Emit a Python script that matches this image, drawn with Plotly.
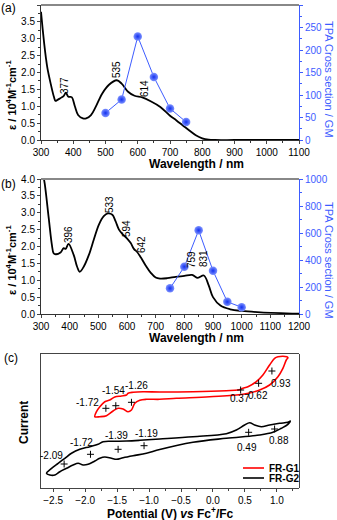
import plotly.graph_objects as go

W, H = 337, 520

# ---- (a) absorption + TPA ----
wl_a = [300, 305, 310, 315, 320, 330, 340, 345, 350, 360, 370, 377, 385, 395, 405, 415,
        430, 440, 455, 470, 490, 510, 535, 550, 570, 590, 614, 640, 670, 700, 720, 740,
        760, 780, 800, 820, 840, 900, 1000, 1100]
eps_a = [3.8, 3.3, 2.85, 2.45, 2.12, 1.67, 1.28, 1.16, 1.18, 1.24, 1.3, 1.4, 1.28, 1.27, 1.0, 0.74,
         0.64, 0.64, 0.74, 0.99, 1.38, 1.63, 1.77, 1.67, 1.43, 1.31, 1.26, 1.15, 0.98, 0.72, 0.58, 0.43,
         0.28, 0.14, 0.05, 0.01, 0.0, 0.0, 0.0, 0.0]
tpa_wl_a = [500, 550, 600, 650, 700, 750]
tpa_a = [60, 90, 230, 140, 70, 40]

# ---- (b) absorption + TPA ----
wl_b = [300, 306, 313, 327, 338, 344, 351, 368, 379, 386, 396, 414, 426, 435, 449, 467, 484,
        502, 519, 533, 549, 560, 572, 584, 599, 613, 624, 636, 648, 665, 683, 700, 716, 740,
        770, 800, 827, 847, 868, 885, 900, 926, 960, 1000, 1066, 1200]
eps_b = [4.6, 4.2, 3.86, 2.84, 2.05, 1.8, 1.77, 1.82, 1.95, 1.93, 2.08, 1.75, 1.4, 1.25, 1.4, 1.75, 2.2,
         2.65, 2.9, 2.98, 2.94, 2.75, 2.5, 2.37, 2.25, 2.1, 1.93, 1.83, 1.68, 1.44, 1.22, 1.08, 1.05, 1.06,
         1.1, 1.13, 1.16, 1.07, 1.14, 0.85, 0.5, 0.25, 0.14, 0.09, 0.05, 0.01]
tpa_wl_b = [750, 800, 850, 900, 950, 1000]
tpa_b = [190, 350, 620, 320, 90, 50]

# ---- (c) cyclic voltammetry (current in arbitrary units) ----
g1_v = [-1.848, -1.822, -1.770, -1.692, -1.614, -1.536, -1.431, -1.353, -1.328, -1.250, -1.094,
        -0.833, -0.313, 0.209, 0.391, 0.469, 0.547, 0.678, 0.781, 0.886, 0.964, 1.016, 1.156, 1.172,
        1.147, 1.094, 1.016, 0.886, 0.730, 0.469, -0.052, -0.572, -0.833, -1.041, -1.145, -1.223,
        -1.275, -1.328, -1.406, -1.484, -1.563, -1.666, -1.770, -1.848]
g1_i = [7.13, 7.63, 8.13, 8.63, 8.80, 9.10, 9.20, 9.30, 9.47, 9.57, 9.63,
        9.60, 9.63, 9.73, 9.80, 9.97, 10.13, 10.63, 11.30, 12.30, 12.97, 13.13, 13.13, 13.03,
        12.80, 11.97, 11.13, 10.30, 9.80, 9.37, 9.13, 8.97, 8.87, 8.87, 8.77, 8.47,
        7.80, 7.63, 7.90, 7.97, 7.70, 7.23, 7.13, 7.13]
g2_v = [-2.603, -2.525, -2.422, -2.317, -2.213, -2.083, -1.927, -1.797, -1.719, -1.563, -1.353,
        -1.145, -0.833, -0.313, 0.209, 0.366, 0.495, 0.573, 0.652, 0.756, 0.886, 1.042, 1.172, 1.209,
        1.172, 1.069, 0.938, 0.730, 0.209, -0.313, -0.833, -1.041, -1.250, -1.406, -1.509, -1.588,
        -1.692, -1.770, -1.848, -1.953, -2.031, -2.109, -2.188, -2.291, -2.395, -2.473, -2.552, -2.603]
g2_i = [1.47, 1.97, 2.47, 2.97, 3.47, 3.87, 4.13, 4.37, 4.63, 4.67, 4.70,
        4.77, 4.90, 5.13, 5.43, 5.80, 6.30, 6.53, 6.30, 6.13, 6.30, 6.47, 6.57, 6.70,
        6.37, 5.97, 5.57, 5.30, 4.97, 4.57, 3.85, 3.47, 3.23, 3.03, 2.87, 2.97,
        3.10, 2.97, 2.70, 2.37, 2.30, 2.47, 2.30, 1.97, 1.63, 1.30, 1.30, 1.47]
g1_peak_v = [-1.675, -1.520, -1.275, 0.433, 0.714, 0.922]
g1_peak_i = [7.97, 8.23, 8.57, 9.80, 10.47, 11.70]
g2_peak_v = [-2.328, -1.916, -1.484, -1.078, 0.558, 0.964]
g2_peak_i = [2.40, 3.37, 3.87, 4.23, 5.57, 5.90]
series_names = ["FR-G1", "FR-G2"]
series_colors = ["red", "black"]

BLUE = "#3d5cff"
FONT = "Liberation Sans, Arial, sans-serif"


def px(x):
    return x / W


def py(y):
    return 1 - y / H


fig = go.Figure()

# absorption curves
fig.add_trace(go.Scatter(x=wl_a, y=eps_a, mode="lines", line=dict(color="black", width=1.8, shape="spline"),
                         xaxis="x", yaxis="y", showlegend=False))
fig.add_trace(go.Scatter(x=wl_b, y=eps_b, mode="lines", line=dict(color="black", width=1.8, shape="spline"),
                         xaxis="x2", yaxis="y3", showlegend=False))

marker = dict(size=8.5, color="#7d92ff", gradient=dict(type="radial", color="#1230f0"), line=dict(width=0))
fig.add_trace(go.Scatter(x=tpa_wl_a, y=tpa_a, mode="lines+markers", line=dict(color=BLUE, width=1),
                         marker=marker, xaxis="x", yaxis="y2", showlegend=False))
fig.add_trace(go.Scatter(x=tpa_wl_b, y=tpa_b, mode="lines+markers", line=dict(color=BLUE, width=1),
                         marker=marker, xaxis="x2", yaxis="y4", showlegend=False))

# CV loops
for v, i, name, col in [(g1_v, g1_i, series_names[0], series_colors[0]),
                        (g2_v, g2_i, series_names[1], series_colors[1])]:
    fig.add_trace(go.Scatter(x=v, y=i, mode="lines", line=dict(color=col, width=1.6, shape="spline"),
                             name=name, xaxis="x3", yaxis="y5", showlegend=False))
fig.add_trace(go.Scatter(x=g1_peak_v + g2_peak_v, y=g1_peak_i + g2_peak_i, mode="markers",
                         marker=dict(symbol="cross-thin", size=5, line=dict(color="black", width=1)),
                         xaxis="x3", yaxis="y5", showlegend=False))

xdom = [px(41), px(299)]
tickf = dict(family=FONT, size=10, color="black")
blue_tickf = dict(family=FONT, size=10, color=BLUE)


def xax(rng, dtick, minor, dom_y_anchor):
    return dict(domain=xdom, range=rng, dtick=dtick, ticks="outside", ticklen=3, tickwidth=1,
                showline=True, linecolor="#333", linewidth=1, showgrid=False, zeroline=False,
                tickfont=tickf, anchor=dom_y_anchor, automargin=False,
                minor=dict(dtick=minor, ticks="outside", ticklen=2, tickcolor="#333"))


def yax(rng, dom, dtick, minor):
    return dict(domain=dom, range=rng, dtick=dtick, ticks="outside", ticklen=3, showline=True,
                linecolor="#333", linewidth=1, showgrid=False, zeroline=False, tickfont=tickf,
                tickformat=".1f", automargin=False,
                minor=dict(dtick=minor, ticks="outside", ticklen=2, tickcolor="#333"))


def y2ax(rng, dtick, minor, over, anchor):
    return dict(range=rng, dtick=dtick, overlaying=over, side="right", anchor=anchor, ticks="outside",
                ticklen=3, showline=True, linecolor=BLUE, tickcolor=BLUE, linewidth=1, showgrid=False,
                zeroline=False, tickfont=blue_tickf, automargin=False,
                minor=dict(dtick=minor, ticks="outside", ticklen=2, tickcolor=BLUE))


dom_a = [py(140), py(5)]
dom_b = [py(314), py(179)]
dom_c = [py(488), py(354)]

fig.update_layout(
    width=W, height=H, margin=dict(l=0, r=0, t=0, b=0, autoexpand=False),
    paper_bgcolor="white", plot_bgcolor="white",
    font=dict(family=FONT, size=10, color="black"),
    showlegend=False,
    xaxis=xax([300, 1100], 100, 50, "y"),
    yaxis=yax([0, 4], dom_a, 0.5, 0.25),
    yaxis2=y2ax([0, 300], 50, 25, "y", "x"),
    xaxis2=xax([300, 1200], 100, 50, "y3"),
    yaxis3=yax([0, 4], dom_b, 0.5, 0.25),
    yaxis4=y2ax([0, 1000], 200, 100, "y3", "x2"),
    xaxis3=dict(domain=[px(41), px(298)], range=[-2.69, 1.33], dtick=0.5, ticks="outside", ticklen=3,
                showline=True, mirror=True, linecolor="#444", linewidth=1, showgrid=False,
                zeroline=False, tickfont=tickf, tickformat=".1f", anchor="y5", automargin=False,
                minor=dict(dtick=0.25, ticks="outside", ticklen=2, tickcolor="#444")),
    yaxis5=dict(domain=dom_c, range=[0, 13.4], showticklabels=False, ticks="", showline=True,
                mirror=True, linecolor="#444", linewidth=1, showgrid=False, zeroline=False,
                automargin=False),
)

# gray top border of (a) and (b)
for yy in (5, 179):
    fig.add_shape(type="line", xref="paper", yref="paper", x0=px(41), x1=px(299), y0=py(yy), y1=py(yy),
                  line=dict(color="#888", width=2))

ann = []


def text(x, y, s, size=10, angle=0, color="black", bold=False, xref="paper", yref="paper",
         xanchor="center"):
    ann.append(dict(x=x, y=y, xref=xref, yref=yref, text=s, showarrow=False, textangle=angle,
                    font=dict(family=FONT, size=size, color=color, weight="bold" if bold else "normal"),
                    xanchor=xanchor, yanchor="middle"))


# legend of (c), drawn by hand to keep the tight spacing
for k, yy in enumerate((468, 478)):
    fig.add_shape(type="line", xref="paper", yref="paper", x0=px(243), x1=px(264), y0=py(yy), y1=py(yy),
                  line=dict(color=series_colors[k], width=1.6))
    text(px(267), py(yy), series_names[k], size=10, bold=True, xanchor="left")

# panel labels
text(px(8), py(8), "(a)", size=12)
text(px(8), py(184), "(b)", size=12)
text(px(11), py(358), "(c)", size=12)

# axis titles
eps_title = "ε / 10<sup>4</sup>M<sup>-1</sup>cm<sup>-1</sup>"
text(px(11), py(95), eps_title, size=11, angle=-90, bold=True)
text(px(11), py(260), eps_title, size=11, angle=-90, bold=True)
text(px(196), py(164), "Wavelength / nm", size=12, bold=True)
text(px(196), py(338), "Wavelength / nm", size=12, bold=True)
text(px(329), py(79), "TPA Cross section / GM", size=11, angle=90, color=BLUE)
text(px(329), py(260), "TPA Cross section / GM", size=11, angle=90, color=BLUE)
text(px(24), py(423), "Current", size=12, angle=-90, bold=True)
text(px(170), py(513), "Potential (V) <i>vs</i> Fc<sup>+</sup>/Fc", size=12, bold=True)

# peak labels
for x, y, s in [(65, 86, "377"), (117, 70, "535"), (144, 89, "614")]:
    text(px(x), py(y), s, angle=-90)
for x, y, s in [(69, 235, "396"), (110, 205, "533"), (126, 228, "594"), (141, 245, "642"),
                (191, 260, "759"), (203, 259, "831")]:
    text(px(x), py(y), s, angle=-90)

# CV labels
for v, i, s in [(-1.969, 8.57, "-1.72"), (-1.5625, 9.8, "-1.54"), (-1.197, 10.23, "-1.26"),
                (0.417, 8.97, "0.37"), (0.703, 9.23, "0.62"), (1.069, 10.47, "0.93"),
                (-2.525, 3.3, "-2.09"), (-2.056, 4.57, "-1.72"), (-1.509, 5.3, "-1.39"),
                (-1.041, 5.47, "-1.19"), (0.531, 4.03, "0.49"), (1.031, 4.8, "0.88")]:
    text(v, i, s, xref="x3", yref="y5")

fig.update_layout(annotations=ann)
fig.write_html("out.html", config={"displayModeBar": False},
               post_script="document.body.style.margin='0px';")
